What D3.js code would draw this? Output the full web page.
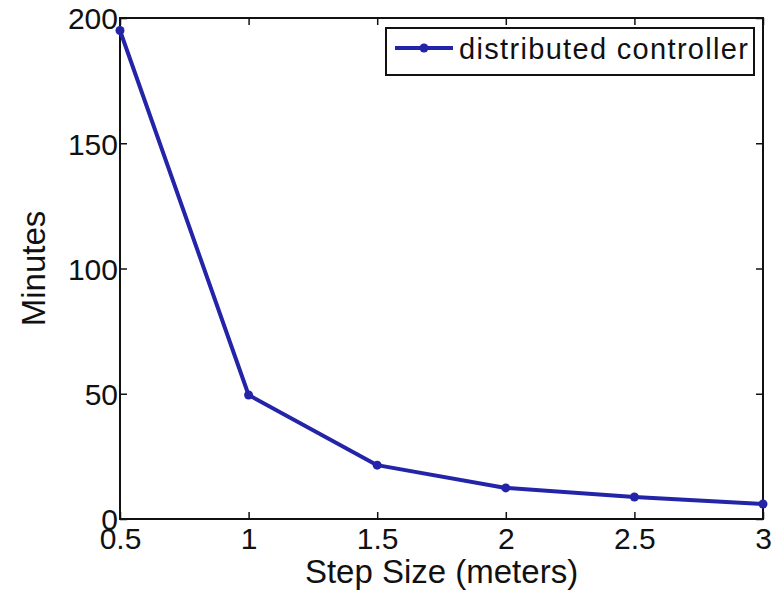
<!DOCTYPE html>
<html>
<head>
<meta charset="utf-8">
<script src="https://cdn.jsdelivr.net/npm/d3@7"></script>
<style>
  body { margin: 0; background: #fff; }
  text { font-family: "Liberation Sans", Arial, sans-serif; fill: #111; }
</style>
</head>
<body>
<div id="chart"></div>
<script>
// step size (meters) vs minutes
const stepSizes = [0.5, 1, 1.5, 2, 2.5, 3];
const minutes = [195, 49.5, 21.5, 12.4, 8.8, 6];
const xTicks = [0.5, 1, 1.5, 2, 2.5, 3];
const yTicks = [0, 50, 100, 150, 200];
const seriesName = "distributed controller";

const W = 781, H = 594;
const margin = { top: 18, right: 18, bottom: 75, left: 120 };
const width = W - margin.left - margin.right;
const height = H - margin.top - margin.bottom;
const lineColor = "#2424a8";

const svg = d3.select("#chart").append("svg")
    .attr("width", W)
    .attr("height", H);

const g = svg.append("g")
    .attr("transform", `translate(${margin.left},${margin.top})`);

const x = d3.scaleLinear().domain([0.5, 3]).range([0, width]);
const y = d3.scaleLinear().domain([0, 200]).range([height, 0]);

// inward ticks on all four sides, matlab style
const tickLen = 7;
const fmt = d => String(d);

const axisStyle = sel => {
    sel.select(".domain").remove();
    sel.selectAll("line").attr("stroke", "#111").attr("stroke-width", 1.5);
    sel.selectAll("text").style("font-size", "30px").attr("fill", "#111");
};

g.append("g")
    .attr("transform", `translate(0,${height})`)
    .call(d3.axisBottom(x).tickValues(xTicks).tickFormat(fmt).tickSize(-tickLen).tickPadding(4))
    .call(axisStyle)
    .selectAll("text").attr("dy", "0.85em");

g.append("g")
    .call(d3.axisTop(x).tickValues(xTicks).tickFormat("").tickSize(-tickLen))
    .call(axisStyle);

g.append("g")
    .call(d3.axisLeft(y).tickValues(yTicks).tickFormat(fmt).tickSize(-tickLen).tickPadding(2))
    .call(axisStyle)
    .selectAll("text").attr("dy", "0.36em");

g.append("g")
    .attr("transform", `translate(${width},0)`)
    .call(d3.axisRight(y).tickValues(yTicks).tickFormat("").tickSize(-tickLen))
    .call(axisStyle);

// box
g.append("rect")
    .attr("width", width)
    .attr("height", height)
    .attr("fill", "none")
    .attr("stroke", "#111")
    .attr("stroke-width", 2);

const data = stepSizes.map((s, i) => ({ s, m: minutes[i] }));

const line = d3.line()
    .x(d => x(d.s))
    .y(d => y(d.m));

g.append("path")
    .datum(data)
    .attr("fill", "none")
    .attr("stroke", lineColor)
    .attr("stroke-width", 4)
    .attr("stroke-linejoin", "round")
    .attr("d", line);

g.selectAll(".pt")
    .data(data)
    .enter().append("circle")
    .attr("class", "pt")
    .attr("cx", d => x(d.s))
    .attr("cy", d => y(d.m))
    .attr("r", 4.5)
    .attr("fill", lineColor);

// axis labels
svg.append("text")
    .attr("x", margin.left + width / 2)
    .attr("y", 583)
    .attr("text-anchor", "middle")
    .style("font-size", "33px")
    .text("Step Size (meters)");

svg.append("text")
    .attr("transform", `translate(45,${margin.top + height / 2}) rotate(-90)`)
    .attr("text-anchor", "middle")
    .style("font-size", "33px")
    .text("Minutes");

// legend
const legend = svg.append("g").attr("transform", "translate(386,28)");
legend.append("rect")
    .attr("width", 368)
    .attr("height", 47)
    .attr("fill", "#fff")
    .attr("stroke", "#111")
    .attr("stroke-width", 2);
legend.append("line")
    .attr("x1", 9).attr("x2", 67)
    .attr("y1", 20).attr("y2", 20)
    .attr("stroke", lineColor)
    .attr("stroke-width", 4);
legend.append("circle")
    .attr("cx", 38).attr("cy", 20).attr("r", 4.5)
    .attr("fill", lineColor);
legend.append("text")
    .attr("x", 73)
    .attr("y", 31)
    .attr("textLength", 289)
    .style("font-size", "29px")
    .text(seriesName);
</script>
</body>
</html>
